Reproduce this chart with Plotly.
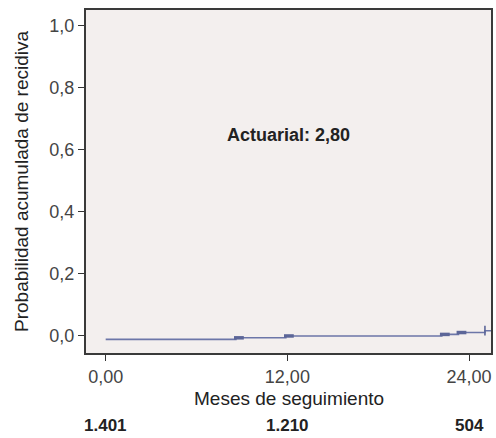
import plotly.graph_objects as go

# Step times (months) and cumulative recurrence probability
months = [0.0, 8.6, 11.9, 22.2, 23.3, 25.05, 25.45]
prob = [-0.012, -0.007, -0.001, 0.004, 0.010, 0.016, 0.016]
# Step marks
mark_months = [8.8, 12.1, 22.4, 23.5]
mark_prob = [-0.007, -0.001, 0.004, 0.010]
# Censor mark at end
cens_months = [25.05]
cens_prob = [0.016]

x_ticks = [0, 12, 24]
x_ticklabels = ["0,00", "12,00", "24,00"]
y_ticks = [0, 0.2, 0.4, 0.6, 0.8, 1.0]
y_ticklabels = ["0,0", "0,2", "0,4", "0,6", "0,8", "1,0"]
at_risk = ["1.401", "1.210", "504"]
annotation_text = "Actuarial: 2,80"

LINE = "#6c76a8"
FONT = "Liberation Sans, Arial, Helvetica, sans-serif"

fig = go.Figure()
fig.add_trace(go.Scatter(x=months, y=prob, mode="lines", line=dict(shape="hv", color=LINE, width=1.6),
                         hoverinfo="skip", showlegend=False))
fig.add_trace(go.Scatter(x=mark_months, y=mark_prob, mode="markers",
                         marker=dict(symbol="line-ew", size=7, line=dict(color="#5c6698", width=3.5)),
                         showlegend=False, hoverinfo="skip"))
fig.add_trace(go.Scatter(x=cens_months, y=cens_prob, mode="markers",
                         marker=dict(symbol="line-ns", size=7, line=dict(color="#5c6698", width=1.6)),
                         showlegend=False, hoverinfo="skip"))

fig.add_annotation(x=0.5, xref="paper", y=0.648, yref="y", text="<b>%s</b>" % annotation_text,
                   showarrow=False, font=dict(family=FONT, size=18, color="#222222"),
                   xanchor="center", yanchor="middle")

fig.add_annotation(x=0.5, xref="paper", y=0, yref="paper", text="Meses de seguimiento",
                   showarrow=False, font=dict(family=FONT, size=19, color="#222222"),
                   xanchor="center", yanchor="middle", yshift=-45)

for xv, t in zip(x_ticks, at_risk):
    fig.add_annotation(x=xv, xref="x", y=0, yref="paper", text="<b>%s</b>" % t,
                       showarrow=False, font=dict(family=FONT, size=17, color="#222222"),
                       xanchor="center", yanchor="middle", yshift=-72)

fig.update_layout(
    width=496, height=438,
    margin=dict(l=86, r=3, t=10, b=85),
    paper_bgcolor="white",
    plot_bgcolor="#f3efee",
    font=dict(family=FONT, color="#444444"),
)
fig.update_xaxes(range=[-1.3, 25.45], tickvals=x_ticks, ticktext=x_ticklabels,
                 ticks="outside", ticklen=6, tickwidth=1.2, tickcolor="#333333",
                 showline=True, linecolor="#3a3a3a", linewidth=2, mirror=True,
                 showgrid=False, zeroline=False, tickfont=dict(size=18, color="#444444"))
fig.update_yaxes(range=[-0.056, 1.051], tickvals=y_ticks, ticktext=y_ticklabels,
                 ticks="outside", ticklen=6, tickwidth=1.2, tickcolor="#333333",
                 showline=True, linecolor="#3a3a3a", linewidth=2, mirror=True,
                 showgrid=False, zeroline=False, tickfont=dict(size=18, color="#444444"),
                 title=dict(text="Probabilidad acumulada de recidiva", standoff=16,
                            font=dict(size=19, color="#222222")))

fig.write_html("out.html")
